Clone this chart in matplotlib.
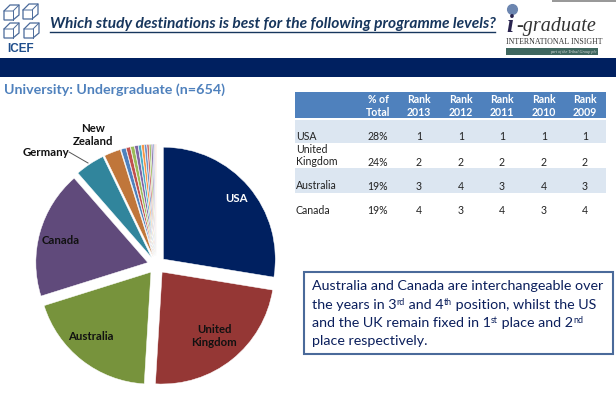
import matplotlib
matplotlib.use('Agg')
import matplotlib.pyplot as plt
from matplotlib.patches import Rectangle, Polygon

W, H = 616, 407
plt.rcParams['font.family'] = ['Lato', 'DejaVu Sans']

# pie values
countries = ['USA', 'United\nKingdom', 'Australia', 'Canada', 'Germany', 'New\nZealand']
shares = [27.7, 23.5, 19.3, 18.5, 4.3, 2.4]
small_shares = [.70, .60, .55, .50, .42, .38, .34, .30, .27, .24, .20, .16, .12]

main_colors = ['#002060', '#953735', '#77933C', '#604A7B', '#31859C', '#C0763A']
small_colors = ['#4F81BD', '#C0504D', '#9BBB59', '#8064A2', '#4BACC6', '#F79646',
                '#6E93C8', '#C96A68', '#A5C26B', '#8F78B0', '#8FA8D0', '#E0A0A0',
                '#F3D5B5']
# offset in pixels, matplotlib does not scale explode by the radius
explode_px = 9

# table
col_heads = ['% of\nTotal', 'Rank\n2013', 'Rank\n2012', 'Rank\n2011', 'Rank\n2010', 'Rank\n2009']
row_names = ['USA', 'United\nKingdom', 'Australia', 'Canada']
pct_total = ['28%', '24%', '19%', '19%']
ranks = [[1, 1, 1, 1, 1],
         [2, 2, 2, 2, 2],
         [3, 4, 3, 4, 3],
         [4, 3, 4, 3, 4]]

fig = plt.figure(figsize=(W / 100, H / 100), dpi=100)

# page axes in pixel coords, y down
ax = fig.add_axes([0, 0, 1, 1])
ax.set_xlim(0, W)
ax.set_ylim(H, 0)
ax.axis('off')

# title and nav bar
ax.add_patch(Rectangle((0, 58), W, 19, fc='#002060', ec='none'))
ax.text(50, 24, 'Which study destinations is best for the following programme levels?',
        fontsize=11.2, weight='bold', style='italic', color='#17365D', va='center', ha='left')
ax.plot([50, 495], [31.5, 31.5], color='#17365D', lw=1)
ax.text(4, 90, 'University: Undergraduate (n=654)', fontsize=10.3, weight='bold',
        color='#4F81BD', va='center')

# ICEF logo
for x0, y0 in [(4, 5), (23, 4), (4, 23), (24, 23)]:
    ax.add_patch(Polygon([(x0, y0 + 6), (x0 + 6, y0), (x0 + 15, y0), (x0 + 15, y0 + 10),
                          (x0 + 9, y0 + 15), (x0, y0 + 15)], fc='none', ec='#4A6A9A', lw=0.9))
    ax.plot([x0, x0 + 9, x0 + 15], [y0 + 6, y0 + 6, y0], color='#4A6A9A', lw=0.7)
    ax.plot([x0 + 9, x0 + 9], [y0 + 6, y0 + 15], color='#4A6A9A', lw=0.7)
ax.text(20.5, 49, 'ICEF', fontsize=8.5, weight='bold', color='#1F4E8C', ha='center', va='center',
        family='Liberation Sans')

# i-graduate logo
ax.plot([512], [9], 'o', ms=7, color='#6C86B0')
ax.text(506, 26, 'i', fontsize=18, weight='bold', style='italic', color='#2A2550', ha='left',
        va='center', family='Liberation Serif')
ax.text(516, 26, '-graduate', fontsize=14.5, style='italic', color='#333333', ha='left',
        va='center', family='Liberation Serif')
ax.text(506, 42, 'INTERNATIONAL INSIGHT', fontsize=5.7, color='#333333', ha='left',
        va='center', family='Liberation Serif')
ax.add_patch(Rectangle((506, 48), 92, 7, fc='#3F675F', ec='none'))
ax.text(597, 51.5, 'part of the Tribal Group plc', fontsize=3, style='italic', color='#DDDDDD',
        ha='right', va='center', family='Liberation Serif')
ax.add_patch(Rectangle((552, 0), 64, 2, fc='#999999', ec='none'))

# table
ax.add_patch(Rectangle((295, 92), 311, 26, fc='#4F81BD', ec='none'))
ax.add_patch(Rectangle((295, 120), 311, 23, fc='#DCE6F1', ec='none'))
ax.add_patch(Rectangle((295, 168), 311, 25, fc='#DCE6F1', ec='none'))
col_x = [378, 419, 461, 502, 544, 585]
row_y = [137, 162, 186, 211]
tbl_size = 7.6
for x, head in zip(col_x, col_heads):
    ax.text(x, 106, head, fontsize=tbl_size, weight='bold', color='white', ha='center', va='center',
            linespacing=1.15)
for i, name in enumerate(row_names):
    ax.text(296, row_y[i] + 3, name, fontsize=tbl_size, color='#222222', ha='left', va='baseline',
            linespacing=1.15)
    ax.text(col_x[0], row_y[i], pct_total[i], fontsize=tbl_size, color='#222222', ha='center',
            va='center')
    for x, r in zip(col_x[1:], ranks[i]):
        ax.text(x, row_y[i], str(r), fontsize=tbl_size, color='#222222', ha='center', va='center')

# note box
ax.add_patch(Rectangle((304, 272), 309, 82, fc='white', ec='#4A6A9A', lw=1.5))
note_color = '#0B1F5C'
note_size = 10.3
note_lines = [
    [('Australia and Canada are interchangeable over', 0)],
    [('the years in 3', 0), ('rd', 1), (' and 4', 0), ('th', 1), (' position, whilst the US', 0)],
    [('and the UK remain fixed in 1', 0), ('st', 1), (' place and 2', 0), ('nd', 1)],
    [('place respectively.', 0)],
]
fig.canvas.draw()
rend = fig.canvas.get_renderer()
for y, parts in zip([290, 309, 327, 345], note_lines):
    x = 312
    for txt, sup in parts:
        t = ax.text(x, y - 4 * sup, txt.replace(' ', '\u00a0'), color=note_color,
                    fontsize=note_size * (0.62 if sup else 1), ha='left', va='baseline')
        x += t.get_window_extent(rend).width

# pie, second axes in pixel coords with y up
pie_ax = fig.add_axes([0, 0, 1, 1])
pie_ax.patch.set_alpha(0)
values = shares + small_shares
explode = [explode_px] * len(values)
wedges, _ = pie_ax.pie(values, colors=main_colors + small_colors, explode=explode, startangle=90,
                       counterclock=False, radius=112, center=(156.5, H - 265),
                       wedgeprops={'edgecolor': 'white', 'linewidth': 0.35}, frame=True)
pie_ax.set_xlim(0, W)
pie_ax.set_ylim(0, H)
pie_ax.set_aspect('auto')
pie_ax.axis('off')

# data labels
label_pos = [(236, 198), (214, 336), (91, 336), (61, 241), (46, 152), (93, 135)]
label_col = ['white', '#111111', '#111111', '#111111', '#111111', '#111111']
for name, (x, y), c in zip(countries, label_pos, label_col):
    ax.text(x, y, name, fontsize=8.2, weight='bold', color=c, ha='center', va='center',
            linespacing=1.2, zorder=5)
ax.set_zorder(2)
ax.patch.set_alpha(0)
ax.plot([69, 88], [152, 163], color='#555555', lw=0.7, zorder=5)

fig.savefig('out.png', dpi=100)
